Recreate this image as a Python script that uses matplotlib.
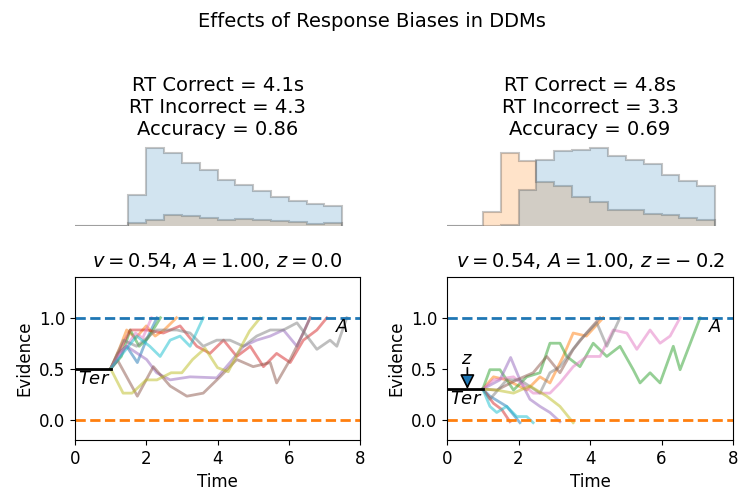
import numpy as np
import matplotlib
matplotlib.use("Agg")
import matplotlib.pyplot as plt

# RT histograms (counts per 0.5 s bin, 0 - 7.5 s)
bin_edges = np.arange(0, 7.51, 0.5)
left_correct = [0, 0, 0, 90, 228, 214, 186, 163, 134, 121, 104, 84, 73, 64, 58]
left_incorrect = [0, 0, 0, 8, 18, 32, 29, 24, 17, 21, 17, 15, 13, 6, 9]
right_correct = [0, 0, 0, 3, 106, 194, 222, 225, 229, 206, 196, 184, 149, 134, 119]
right_incorrect = [0, 0, 41, 214, 191, 131, 117, 86, 71, 48, 48, 36, 31, 25, 17]

left_stats = "RT Correct = 4.1s\nRT Incorrect = 4.3\nAccuracy = 0.86"
right_stats = "RT Correct = 4.8s\nRT Incorrect = 3.3\nAccuracy = 0.69"
left_params = r"$v = 0.54$, $A = 1.00$, $z = 0.0$"
right_params = r"$v = 0.54$, $A = 1.00$, $z = -\:0.2$"

ter = 1.0
left_start = 0.5
right_start = 0.3

# example evidence traces, (time, evidence), in tab10 order
left_traces = [
    ([1.0, 1.2, 1.45, 1.75, 2.0, 2.3], [0.5, 0.65, 0.72, 0.56, 0.78, 1.0]),
    ([1.0, 1.25, 1.45, 1.7, 2.0, 2.25, 2.5, 2.85], [0.5, 0.7, 0.88, 0.8, 0.92, 0.82, 0.88, 1.0]),
    ([1.0, 1.3, 1.55, 1.8, 2.05, 2.4], [0.5, 0.62, 0.88, 0.72, 0.8, 1.0]),
    ([1.0, 1.55, 2.01, 2.48, 2.95, 3.42, 3.79, 4.17, 4.54, 4.92, 5.29, 5.66, 6.04, 6.41, 6.79, 7.07],
     [0.5, 0.88, 0.88, 0.85, 0.92, 0.72, 0.65, 0.78, 0.62, 0.72, 0.52, 0.65, 0.56, 0.78, 0.88, 1.0]),
    ([1.0, 1.2, 1.45, 2.01, 2.29, 2.67, 3.23, 3.98, 4.35, 4.73, 5.1, 5.48, 5.85, 6.23, 6.6],
     [0.5, 0.6, 0.72, 0.59, 0.46, 0.39, 0.42, 0.41, 0.56, 0.72, 0.78, 0.82, 0.88, 0.72, 1.0]),
    ([1.0, 1.2, 1.75, 2.2, 2.67, 3.14, 3.6, 4.07, 4.54, 5.0, 5.48, 5.66, 6.04, 6.41, 6.6],
     [0.5, 0.58, 0.23, 0.52, 0.33, 0.23, 0.26, 0.42, 0.59, 0.52, 0.56, 0.36, 0.59, 0.85, 1.0]),
    ([1.0, 1.2, 1.45, 1.7, 1.9, 2.15], [0.5, 0.62, 0.72, 0.85, 0.8, 1.0]),
    ([1.0, 1.36, 1.73, 2.29, 2.86, 3.23, 3.6, 3.98, 4.35, 4.73, 5.1, 5.48, 5.85, 6.23, 6.79, 7.16, 7.35, 7.63],
     [0.5, 0.78, 0.72, 0.88, 0.88, 0.85, 0.72, 0.78, 0.78, 0.72, 0.82, 0.88, 0.88, 0.95, 0.69, 0.78, 0.72, 1.0]),
    ([1.0, 1.35, 1.6, 2.0, 2.3, 2.7, 3.0, 3.3, 3.65, 4.0, 4.3, 4.7, 4.9, 5.2],
     [0.5, 0.26, 0.26, 0.39, 0.39, 0.46, 0.46, 0.59, 0.7, 0.51, 0.47, 0.74, 0.87, 1.0]),
    ([1.0, 1.73, 2.1, 2.39, 2.67, 2.95, 3.23, 3.6], [0.5, 0.82, 0.72, 0.62, 0.78, 0.82, 0.72, 1.0]),
]

right_traces = [
    ([1.0, 1.2, 1.67, 2.04], [0.3, 0.23, 0.13, -0.03]),
    ([1.0, 1.3, 1.67, 2.23, 2.6, 2.88, 3.25, 3.53, 3.9, 4.37],
     [0.3, 0.42, 0.39, 0.29, 0.42, 0.36, 0.62, 0.85, 0.82, 1.0]),
    ([1.0, 1.2, 1.48, 1.86, 2.23, 2.6, 2.88, 3.16, 3.35, 3.72, 4.09, 4.47, 4.84, 5.21, 5.4, 5.68, 5.96, 6.33, 6.52, 7.08],
     [0.3, 0.49, 0.49, 0.29, 0.42, 0.46, 0.75, 0.75, 0.62, 0.52, 0.75, 0.62, 0.72, 0.49, 0.36, 0.46, 0.36, 0.72, 0.49, 1.0]),
    ([1.0, 1.3, 1.53, 1.76], [0.3, 0.16, 0.1, -0.02]),
    ([1.0, 1.48, 1.78, 2.04, 2.32, 2.6, 2.88, 3.16], [0.3, 0.39, 0.61, 0.39, 0.2, 0.13, 0.07, -0.02]),
    ([1.0, 1.39, 1.95, 2.41, 2.79, 3.16, 3.53, 3.9, 4.28], [0.3, 0.29, 0.39, 0.46, 0.62, 0.46, 0.69, 0.85, 1.0]),
    ([1.0, 1.3, 1.86, 2.41, 2.88, 3.16, 3.53, 3.91, 4.28, 4.65, 5.03, 5.31, 5.68, 5.96, 6.24, 6.52],
     [0.3, 0.39, 0.42, 0.26, 0.26, 0.36, 0.52, 0.62, 0.62, 0.88, 0.85, 0.69, 0.88, 0.75, 0.82, 1.0]),
    ([1.0, 1.2, 1.67, 2.04, 2.6, 2.88, 3.16, 3.72, 4.19, 4.47, 4.84],
     [0.3, 0.2, 0.39, 0.39, 0.26, 0.46, 0.52, 0.78, 0.95, 0.72, 1.0]),
    ([1.0, 1.39, 1.86, 2.32, 2.79, 3.16, 3.53], [0.3, 0.29, 0.26, 0.33, 0.23, 0.13, -0.03]),
    ([1.0, 1.2, 1.39, 1.67, 1.95, 2.23, 2.41], [0.3, 0.13, 0.07, 0.13, 0.03, 0.03, -0.03]),
]

colors = plt.rcParams['axes.prop_cycle'].by_key()['color']

fig = plt.figure(figsize=(7.43, 4.93), dpi=100)
fig.suptitle("Effects of Response Biases in DDMs", fontsize=14, y=0.975)

W, H = 743, 493


def px_axes(x0, y0, x1, y1):
    return fig.add_axes([x0 / W, 1 - y1 / H, (x1 - x0) / W, (y1 - y0) / H])


def draw_hist(ax, correct, incorrect, stats):
    # incorrect first so the correct fill sits on top of it
    ax.stairs(incorrect, bin_edges, fill=True, facecolor=(1.0, 0.5, 0.05, 0.22),
              edgecolor=(0.35, 0.35, 0.35, 0.35), lw=1.5)
    ax.stairs(correct, bin_edges, fill=True, facecolor=(0.12, 0.47, 0.71, 0.2),
              edgecolor=(0.35, 0.35, 0.35, 0.35), lw=1.5)
    ax.set_xlim(0, 8)
    ax.set_ylim(0, max(max(correct), max(incorrect)) * 1.03)
    ax.axis('off')
    ax.set_title(stats, fontsize=14, pad=8)


def draw_ddm(ax, traces, start, params, show_z):
    for (t, y), c in zip(traces, colors):
        ax.plot(t, y, color=c, alpha=0.5, lw=2)
    ax.axhline(1.0, color='C0', ls='--', lw=2)
    ax.axhline(0.0, color='C1', ls='--', lw=2)
    ax.plot([0, ter], [start, start], color='k', lw=2)
    ax.text(0.08, start - 0.01, r"$Ter$", fontsize=13, ha='left', va='top')
    ax.text(7.5, 0.91, r"$A$", fontsize=13, ha='center', va='center')
    if show_z:
        ax.annotate("", xy=(0.57, start), xytext=(0.57, 0.51),
                    arrowprops=dict(arrowstyle='-|>', mutation_scale=22,
                                    facecolor='C0', edgecolor='k', lw=1.2,
                                    shrinkA=0, shrinkB=0))
        ax.text(0.57, 0.6, r"$z$", fontsize=13, ha='center', va='center')
    ax.set_xlim(0, 8)
    ax.set_ylim(-0.2, 1.4)
    ax.set_xticks([0, 2, 4, 6, 8])
    ax.set_yticks([0.0, 0.5, 1.0])
    ax.tick_params(labelsize=12)
    ax.set_xlabel("Time", fontsize=12)
    ax.set_ylabel("Evidence", fontsize=12)
    ax.set_title(params, fontsize=14, pad=7)


draw_hist(px_axes(75, 146, 360, 226), left_correct, left_incorrect, left_stats)
draw_hist(px_axes(447, 146, 733, 226), right_correct, right_incorrect, right_stats)
draw_ddm(px_axes(75, 277, 360, 440), left_traces, left_start, left_params, False)
draw_ddm(px_axes(447, 277, 733, 440), right_traces, right_start, right_params, True)

fig.savefig("out.png", dpi=100)
